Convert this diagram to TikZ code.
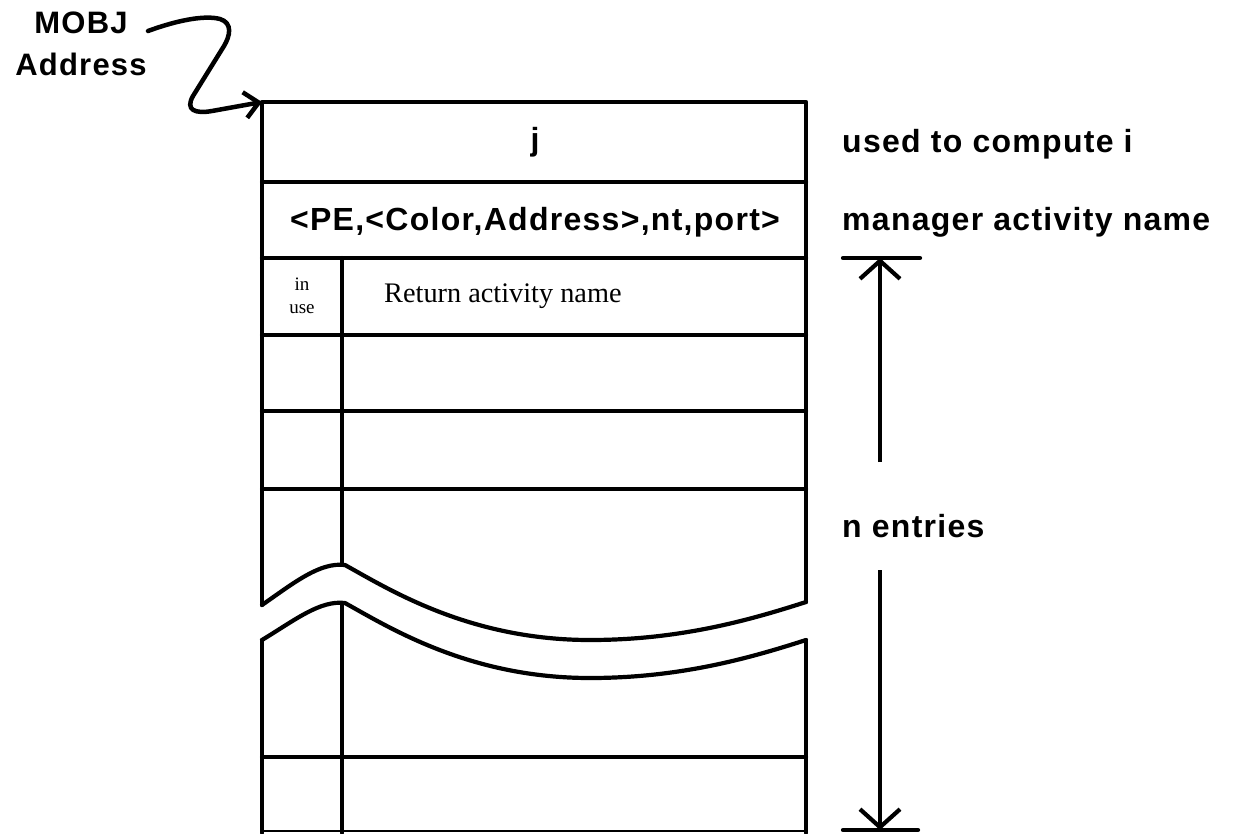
\documentclass[tikz,border=0pt]{standalone}
\usepackage{fontspec}
\setmainfont{Liberation Sans}[LetterSpace=4]
\newfontfamily\serifz{Liberation Serif}
\usetikzlibrary{arrows.meta}
\begin{document}
\begin{tikzpicture}[x=1pt,y=-1pt,
  tbl/.style={line width=4.2pt, line join=round, line cap=round},
  bold/.style={font=\fontsize{32}{40}\selectfont\bfseries, inner sep=0pt},
  serif/.style={font=\serifz\fontsize{28.3}{32}\selectfont, inner sep=0pt},
  small/.style={font=\serifz\fontsize{19}{23}\selectfont, inner sep=0pt, align=center},
  barb/.style={line width=4.2pt, -{Straight Barb[length=18pt,width=40pt,line width=4.2pt]}},
  ptr/.style={line width=4.5pt, line cap=round, -{Straight Barb[length=14pt,width=26pt,line width=4.5pt]}}]
\useasboundingbox (0,0) rectangle (1247,833);

% table corners
\coordinate (tl) at (262,102);
\coordinate (tr) at (806,102);

% upper piece
\draw[tbl] (262,605) -- (tl) -- (tr) -- (806,602);
\foreach \yy in {182,258,335,411,489} \draw[tbl] (262,\yy) -- (806,\yy);
\draw[tbl] (342,258) -- (342,564);
\draw[tbl] (262,605) .. controls (295,582) and (320,562) .. (345,565)
  .. controls (390,590) and (470,640) .. (590,640)
  .. controls (680,640) and (750,620) .. (806,602);

% lower piece
\draw[tbl] (262,640) .. controls (295,620) and (320,600) .. (345,603)
  .. controls (390,628) and (470,678) .. (590,678)
  .. controls (680,678) and (750,658) .. (806,640);
\draw[tbl] (262,640) -- (262,833);
\draw[tbl] (806,640) -- (806,833);
\draw[tbl] (342,603) -- (342,833);
\draw[tbl] (262,757) -- (806,757);
\draw[line width=2pt] (262,831) -- (806,831);

% cell texts
\node[bold] (j) at (535,142) {j};
\node[bold, anchor=base] (mgr) at (535,230) {<PE,<Color,Address>,nt,port>};
\node[small] (inuse) at (302,296) {in\\use};
\node[serif, anchor=base west] (ret) at (384,302) {Return activity name};

% right labels
\node[bold, anchor=base west] (used) at (842,152) {used to compute i};
\node[bold, anchor=base west] (mname) at (842,230) {manager activity name};
\node[bold, anchor=base west] (nent) at (842,537) {n entries};

% n entries arrow
\coordinate (ntop) at (880,258);
\coordinate (nbot) at (880,830);
\coordinate (na) at (880,462);
\coordinate (nb) at (880,570);
\draw[tbl] (843,258) -- (920,258);
\draw[tbl] (843,830) -- (918,830);
\draw[barb] (na) -- (ntop);
\draw[barb] (nb) -- (nbot);

% MOBJ address pointer
\node[bold, font=\fontsize{31}{42}\selectfont\bfseries, align=center] (mobj) at (81,44) {MOBJ\\Address};
\coordinate (mstart) at (148,31);
\draw[ptr] (mstart) .. controls (178,20) and (205,15) .. (220,19)
  .. controls (233,23) and (230,36) .. (224,46)
  -- (193,96) .. controls (185,110) and (195,114) .. (212,111)
  -- (tl);
\end{tikzpicture}
\end{document}
